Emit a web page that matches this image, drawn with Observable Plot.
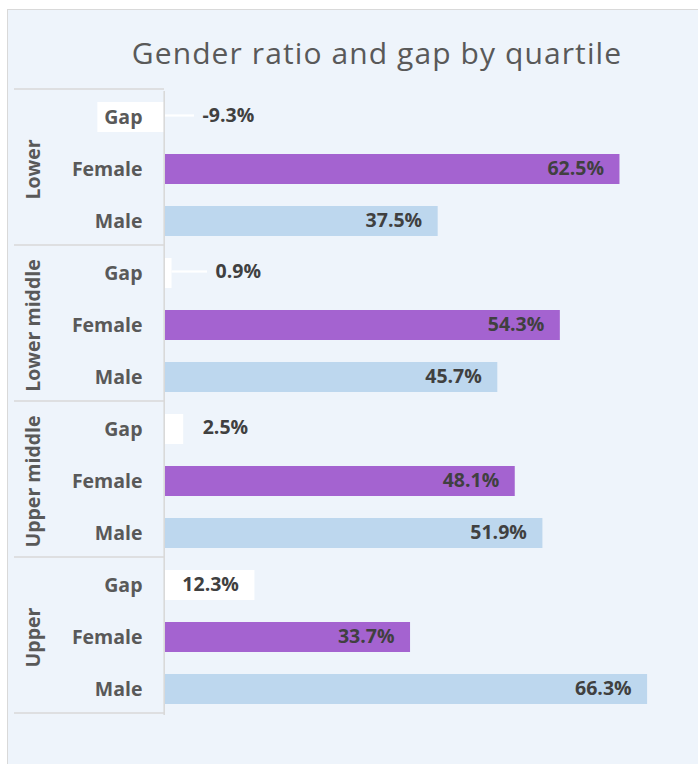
<!DOCTYPE html>
<html>
<head>
<meta charset="utf-8">
<script src="https://cdn.jsdelivr.net/npm/d3@7"></script>
<script src="https://cdn.jsdelivr.net/npm/@observablehq/plot@0.6"></script>
<style>
  html, body { margin: 0; padding: 0; background: #ffffff; overflow: hidden; width: 698px; height: 764px; }
  #box { position: absolute; left: 7px; top: 9px; width: 720px; height: 780px; background: #EEF4FB; border: 1px solid #D9D9D9; box-sizing: border-box; }
  #title { position: absolute; left: 0; top: 35px; width: 754px; text-align: center; font-family: "Open Sans", sans-serif; font-size: 30px; letter-spacing: 1.1px; line-height: 36px; color: #595959; font-weight: 400; white-space: nowrap; }
  #chart { position: absolute; left: 0; top: 0; }
</style>
</head>
<body>
<div id="box"></div>
<div id="title">Gender ratio and gap by quartile</div>
<div id="chart"></div>
<script>
// ---- data ----
const quartiles = ["Lower", "Lower middle", "Upper middle", "Upper"];
const categories = ["Gap", "Female", "Male"];
const gapValues = [-9.3, 0.9, 2.5, 12.3];
const femaleValues = [62.5, 54.3, 48.1, 33.7];
const maleValues = [37.5, 45.7, 51.9, 66.3];

// ---- table built from the arrays ----
const rows = quartiles.flatMap((q, i) => [
  {q, cat: "Gap", v: gapValues[i]},
  {q, cat: "Female", v: femaleValues[i]},
  {q, cat: "Male", v: maleValues[i]}
]);

// ---- layout / style ----
const W = 698, H = 764;
const mL = 165, mR = 24, mT = 89, mB = 48;
const xMax = 70;
const pxPerUnit = (W - mL - mR) / xMax;
const font = "'Open Sans', sans-serif";
const fs = 19.5;
const labelDark = "#404040";
const axisGrey = "#595959";
const lineGrey = "#D9D9D9";
// manually placed gap labels (pixel offsets beyond the bar end) and leader lines
const gapLabelOffset = {"Lower": 37, "Lower middle": 43.5, "Upper middle": 19};
const leaderQuartiles = ["Lower", "Lower middle"];

const inside = rows.filter(d => !(d.cat === "Gap" && gapLabelOffset[d.q] !== undefined));
const outsideGap = rows.filter(d => d.cat === "Gap" && gapLabelOffset[d.q] !== undefined);
const leaders = outsideGap.filter(d => leaderQuartiles.includes(d.q));

const fmt = v => v.toFixed(1) + "%";

const plot = Plot.plot({
  width: W,
  height: H,
  marginLeft: mL,
  marginRight: mR,
  marginTop: mT,
  marginBottom: mB,
  style: {background: "transparent", fontFamily: font},
  x: {domain: [0, xMax], axis: null},
  y: {domain: categories, paddingInner: 0.43, paddingOuter: 0.215, axis: null},
  fy: {domain: quartiles, padding: 0, axis: null},
  color: {domain: categories, range: ["#FFFFFF", "#A463D0", "#BDD7EE"]},
  marks: [
    Plot.barX(rows, {fy: "q", y: "cat", x1: 0, x2: "v", fill: "cat"}),
    Plot.barX(leaders, {
      fy: "q", y: "cat",
      x1: d => Math.max(d.v, 0),
      x2: d => Math.max(d.v, 0) + (gapLabelOffset[d.q] - 8) / pxPerUnit,
      fill: "#FFFFFF",
      insetTop: 12.4, insetBottom: 15.4
    }),
    Plot.ruleX([0], {stroke: lineGrey, strokeWidth: 1.6, dx: -1.3}),
    Plot.axisY({tickSize: 0, tickPadding: 23, fontSize: fs, fontWeight: "bold", fill: axisGrey, label: null}),
    Plot.text(quartiles, {
      fy: d => d, text: d => d, frameAnchor: "left", textAnchor: "middle", dx: -132, rotate: -90,
      fontSize: fs, fontWeight: "bold", fill: axisGrey
    }),
    Plot.text(inside, {
      fy: "q", y: "cat", x: "v", text: d => fmt(d.v), textAnchor: "end", dx: -16, dy: -1,
      fontSize: fs, fontWeight: "bold", fill: labelDark
    }),
    Plot.text(outsideGap, {
      fy: "q", y: "cat",
      x: d => Math.max(d.v, 0) + gapLabelOffset[d.q] / pxPerUnit,
      text: d => fmt(d.v), textAnchor: "start", dy: -2,
      fontSize: fs, fontWeight: "bold", fill: labelDark
    })
  ]
});

// group separators in the left label panel, positioned with the fy scale
const fy = plot.scale("fy");
const svg = d3.select(plot);
const top0 = fy.apply(quartiles[0]);
const bounds = quartiles.map(q => fy.apply(q));
bounds.push(fy.apply(quartiles[quartiles.length - 1]) + fy.bandwidth);
const g = svg.append("g").attr("stroke", lineGrey).attr("stroke-width", 1.6);
bounds.forEach(y => {
  const yy = y - top0 + mT;
  g.append("line").attr("x1", 14).attr("x2", mL - 1).attr("y1", yy).attr("y2", yy);
});

document.getElementById("chart").appendChild(plot);
</script>
</body>
</html>
